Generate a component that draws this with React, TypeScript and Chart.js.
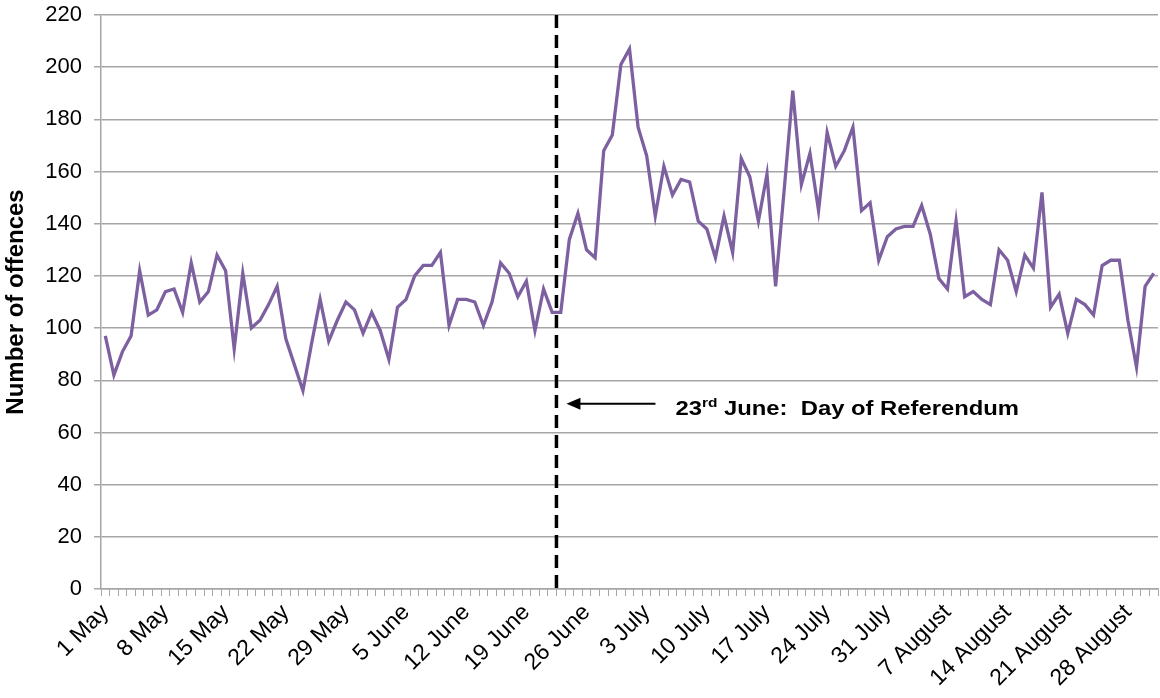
import React, { useEffect, useRef } from "react";
import { Chart, registerables } from "chart.js";

Chart.register(...registerables);

const MONTHS = ["May", "June", "July", "August"];
const DAYS_IN_MONTH = [31, 30, 31, 31];

const CATEGORIES: string[] = [];
MONTHS.forEach((m, mi) => {
  for (let d = 1; d <= DAYS_IN_MONTH[mi]; d++) CATEGORIES.push(`${d} ${m}`);
});

const TICK_LABELS = [
  "1 May", "8 May", "15 May", "22 May", "29 May", "5 June", "12 June", "19 June", "26 June",
  "3 July", "10 July", "17 July", "24 July", "31 July", "7 August", "14 August", "21 August", "28 August",
];

const OFFENCES = [
  97, 82, 91, 97, 122, 105, 107, 114, 115, 106,
  125, 110, 114, 128, 122, 92, 121, 100, 103, 109,
  116, 96, 86, 76, 94, 111, 95, 103, 110, 107,
  98, 106, 99, 88, 108, 111, 120, 124, 124, 129,
  101, 111, 111, 110, 101, 110, 125, 121, 112, 118,
  99, 115, 106, 106, 134, 144, 130, 127, 168, 174,
  201, 207, 177, 166, 143, 162, 151, 157, 156, 141,
  138, 127, 143, 129, 165, 158, 141, 159, 116, 153,
  191, 155, 167, 145, 175, 162, 168, 177, 145, 148,
  126, 135, 138, 139, 139, 147, 136, 119, 115, 141,
  112, 114, 111, 109, 130, 126, 114, 128, 123, 152,
  108, 113, 98, 111, 109, 105, 124, 126, 126, 103,
  85, 116, 121,
];

const Y_TICKS = { min: 0, max: 220, step: 20 };
const REFERENDUM_INDEX = 53; // 23 June
const ANNOTATION_VALUE = 71;
const ANNOTATION_TEXT = { day: "23", sup: "rd", rest: " June:  Day of Referendum" };

const FONT = 'Arial, "Liberation Sans", sans-serif';
const GRID = "#a6a6a6";
const LINE = "#7d60a0";

const referendumPlugin = {
  id: "referendum",
  afterDatasetsDraw(chart: any) {
    const { ctx, chartArea, scales } = chart;
    const xs = scales.x;
    const ys = scales.y;
    const x = xs.getPixelForValue(REFERENDUM_INDEX - 0.5);
    ctx.save();
    ctx.strokeStyle = "#000";
    ctx.lineWidth = 3.5;
    ctx.setLineDash([13, 7]);
    ctx.beginPath();
    ctx.moveTo(x, chartArea.top);
    ctx.lineTo(x, chartArea.bottom);
    ctx.stroke();
    ctx.setLineDash([]);

    const ay = ys.getPixelForValue(ANNOTATION_VALUE);
    const tipX = x + 10;
    const tailX = x + 99;
    ctx.lineWidth = 2;
    ctx.beginPath();
    ctx.moveTo(tailX, ay);
    ctx.lineTo(tipX + 10, ay);
    ctx.stroke();
    ctx.fillStyle = "#000";
    ctx.beginPath();
    ctx.moveTo(tipX, ay);
    ctx.lineTo(tipX + 14, ay - 6);
    ctx.lineTo(tipX + 14, ay + 6);
    ctx.closePath();
    ctx.fill();

    const sx = 1.19;
    const startX = x + 119;
    const baseY = ay + 11;
    ctx.translate(startX, baseY);
    ctx.scale(sx, 1);
    let tx = 0;
    ctx.textAlign = "left";
    ctx.textBaseline = "alphabetic";
    ctx.font = `bold 20px ${FONT}`;
    ctx.fillText(ANNOTATION_TEXT.day, tx, 0);
    tx += ctx.measureText(ANNOTATION_TEXT.day).width;
    ctx.font = `bold 13px ${FONT}`;
    ctx.fillText(ANNOTATION_TEXT.sup, tx, -8);
    tx += ctx.measureText(ANNOTATION_TEXT.sup).width;
    ctx.font = `bold 20px ${FONT}`;
    ctx.fillText(ANNOTATION_TEXT.rest, tx, 0);
    ctx.restore();
  },
};

export default function App() {
  const ref = useRef<HTMLCanvasElement | null>(null);

  useEffect(() => {
    document.body.style.margin = "0";
    const canvas = ref.current;
    if (!canvas) return;
    const chart = new Chart(canvas, {
      type: "line",
      data: {
        labels: CATEGORIES,
        datasets: [
          {
            label: "Number of offences",
            data: OFFENCES,
            borderColor: LINE,
            backgroundColor: LINE,
            borderWidth: 3.3,
            pointRadius: 0,
            tension: 0,
            fill: false,
          },
        ],
      },
      options: {
        responsive: false,
        animation: false,
        devicePixelRatio: 1,
        layout: { padding: { top: 15, right: 2, left: 0, bottom: 0 } },
        plugins: {
          legend: { display: false },
          tooltip: { enabled: false },
          title: { display: false },
        },
        scales: {
          x: {
            type: "category",
            offset: true,
            grid: {
              display: true,
              drawOnChartArea: false,
              drawTicks: true,
              tickLength: 7,
              offset: true,
              color: GRID,
              lineWidth: 1,
            },
            border: { display: true, color: GRID, width: 1.5 },
            ticks: {
              autoSkip: false,
              maxRotation: 45,
              minRotation: 45,
              padding: 3,
              color: "#000",
              font: { family: FONT, size: 23 },
              callback: function (this: any, value: any) {
                const lbl = this.getLabelForValue(value);
                return TICK_LABELS.includes(lbl) ? lbl : "";
              },
            },
            afterFit: (scale: any) => {
              scale.height = 109;
              scale.paddingLeft = 0;
              scale.paddingRight = 0;
            },
          },
          y: {
            min: Y_TICKS.min,
            max: Y_TICKS.max,
            grid: {
              color: GRID,
              lineWidth: 1.5,
              drawTicks: true,
              tickLength: 7,
            },
            border: { display: true, color: GRID, width: 1.5 },
            ticks: {
              stepSize: Y_TICKS.step,
              padding: 12,
              color: "#000",
              font: { family: FONT, size: 22 },
            },
            title: {
              display: true,
              text: "Number of offences",
              color: "#000",
              font: { family: FONT, size: 24, weight: "bold" },
              padding: { top: 2, bottom: 0 },
            },
            afterFit: (scale: any) => {
              scale.width = 101;
              scale.paddingTop = 0;
              scale.paddingBottom = 0;
            },
          },
        },
      },
      plugins: [referendumPlugin],
    });
    return () => chart.destroy();
  }, []);

  return (
    <div style={{ width: 1160, height: 698 }}>
      <canvas ref={ref} width={1160} height={698} style={{ display: "block" }} />
    </div>
  );
}
